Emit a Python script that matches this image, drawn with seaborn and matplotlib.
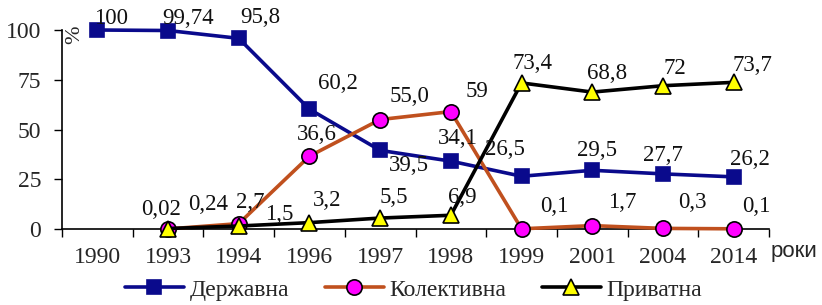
import numpy as np
import pandas as pd
import matplotlib
matplotlib.use("Agg")
import matplotlib.pyplot as plt
import seaborn as sns
from matplotlib.lines import Line2D

# ---- data ----
years = ['1990', '1993', '1994', '1996', '1997', '1998', '1999', '2001', '2004', '2014']
state = [100, 99.74, 95.8, 60.2, 39.5, 34.1, 26.5, 29.5, 27.7, 26.2]
collective = [np.nan, 0.02, 2.7, 36.6, 55.0, 59, 0.1, 1.7, 0.3, 0.1]
private = [np.nan, 0.24, 1.5, 3.2, 5.5, 6.9, 73.4, 68.8, 72, 73.7]
state_labels = ['100', '99,74', '95,8', '60,2', '39,5', '34,1', '26,5', '29,5', '27,7', '26,2']
collective_labels = [None, '0,02', '2,7', '36,6', '55,0', '59', '0,1', '1,7', '0,3', '0,1']
private_labels = [None, '0,24', '1,5', '3,2', '5,5', '6,9', '73,4', '68,8', '72', '73,7']
series_names = ['Державна', 'Колективна', 'Приватна']

# ---- label offsets (pixels) ----
state_off = [(14, 12), (20, 12), (22, 21), (28, 26), (29, -15), (7, 23), (-17, 27), (5, 20), (0, 18), (16, 17)]
coll_off = [None, (-7, 19), (11, 21), (7, 22), (29, 23), (26, 20), (33, 22), (30, 23), (29, 26), (23, 22)]
priv_off = [None, (40, 24), (40, 12), (18, 22), (14, 21), (11, 18), (11, 19), (15, 19), (12, 17), (19, 17)]

sns.set_theme(style="ticks")
plt.rcParams['font.family'] = ['Liberation Serif', 'DejaVu Serif']

fig = plt.figure(figsize=(8.22, 3.05), dpi=100)
ax = fig.add_axes([62 / 822, 1 - 229 / 305, (769 - 62) / 822, (229 - 30) / 305])

styles = [
    dict(line='#0A0A8C', face='#0A0A8C', edge='#0A0A8C', marker='s', ms=10),
    dict(line='#C0501E', face='#FF00FF', edge='#000000', marker='o', ms=11),
    dict(line='#000000', face='#FFFF00', edge='#000000', marker='^', ms=11),
]
vals = [state, collective, private]
labs = [state_labels, collective_labels, private_labels]
offs = [state_off, coll_off, priv_off]

for v, st in zip(vals, styles):
    df = pd.DataFrame({'year': years, 'value': v})
    n_before = len(ax.lines)
    sns.pointplot(data=df, x='year', y='value', order=years, color=st['line'],
                  markers=st['marker'], linestyles='-', errorbar=None, ax=ax)
    for ln in ax.lines[n_before:]:
        ln.set_linewidth(2.6)
        ln.set_markersize(st['ms'])
        ln.set_markerfacecolor(st['face'])
        ln.set_markeredgecolor(st['edge'])
        ln.set_markeredgewidth(1.2)
        ln.set_clip_on(False)
        ln.set_zorder(3)

for v, lb, of in zip(vals, labs, offs):
    for i, (y, t, o) in enumerate(zip(v, lb, of)):
        if t is None:
            continue
        ax.annotate(t, (i, y), xytext=o, textcoords='offset pixels',
                    ha='center', va='center', fontsize=16.5, color='#111111',
                    zorder=5, annotation_clip=False)

ax.set_xlim(-0.5, 9.5)
ax.set_ylim(0, 100)
ax.set_yticks([0, 25, 50, 75, 100])
ax.set_xticks(range(len(years)))
ax.set_xticklabels(years)
ax.set_xticks(np.arange(-0.5, 10, 1), minor=True)
ax.tick_params(axis='x', which='major', length=0, pad=13, labelsize=17)
ax.tick_params(axis='x', which='minor', length=6, width=1, direction='out', color='black')
ax.tick_params(axis='y', length=6, width=1, direction='out', pad=9, labelsize=17, color='black')
ax.set_xlabel('')
ax.set_ylabel('')
for s in ['top', 'right']:
    ax.spines[s].set_visible(False)
for s in ['left', 'bottom']:
    ax.spines[s].set_color('black')
    ax.spines[s].set_linewidth(1.2)
ax.grid(False)

fig.text(75 / 822, 1 - 35 / 305, '%', rotation=90, ha='center', va='center', fontsize=16)
fig.text(794 / 822, 1 - 252 / 305, 'роки', ha='center', va='center', fontsize=16,
         family=['Liberation Sans', 'DejaVu Sans'])

handles = [Line2D([0], [0], color=st['line'], lw=2.6, marker=st['marker'], ms=st['ms'],
                  markerfacecolor=st['face'], markeredgecolor=st['edge'], markeredgewidth=1.2)
           for st in styles]
fig.legend(handles, series_names, loc='center', bbox_to_anchor=(0.503, 1 - 290 / 305), ncol=3,
           frameon=False, fontsize=17, handlelength=2.5, handletextpad=0.25, columnspacing=1.5)

fig.savefig('out.png', dpi=100)
